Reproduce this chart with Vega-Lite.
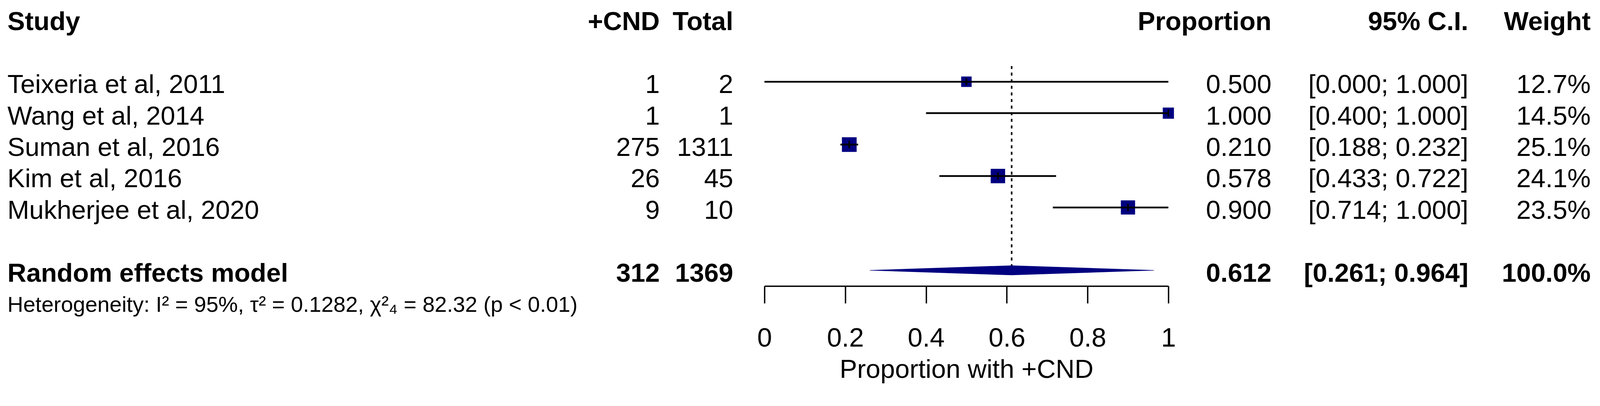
{
  "$schema": "https://vega.github.io/schema/vega-lite/v6.json",
  "padding": {"left": 19, "top": 0, "right": 23, "bottom": 0},
  "autosize": {"type": "pad"},
  "bounds": "flush",
  "spacing": 80,
  "resolve": {"scale": {"y": "independent"}},
  "config": {"font": "Liberation Sans", "view": {"stroke": null}, "text": {"color": "black"}},
  "datasets": {
    "studies": [
      {"row": 2, "study": "Teixeria et al, 2011", "events": 1, "total": 2, "proportion": 0.5, "lower": 0.0, "upper": 1.0, "ci": "[0.000; 1.000]", "weight": 0.127},
      {"row": 3, "study": "Wang et al, 2014", "events": 1, "total": 1, "proportion": 1.0, "lower": 0.4, "upper": 1.0, "ci": "[0.400; 1.000]", "weight": 0.145},
      {"row": 4, "study": "Suman et al, 2016", "events": 275, "total": 1311, "proportion": 0.21, "lower": 0.188, "upper": 0.232, "ci": "[0.188; 0.232]", "weight": 0.251},
      {"row": 5, "study": "Kim et al, 2016", "events": 26, "total": 45, "proportion": 0.578, "lower": 0.433, "upper": 0.722, "ci": "[0.433; 0.722]", "weight": 0.241},
      {"row": 6, "study": "Mukherjee et al, 2020", "events": 9, "total": 10, "proportion": 0.9, "lower": 0.714, "upper": 1.0, "ci": "[0.714; 1.000]", "weight": 0.235}
    ],
    "pooled": [
      {"row": 8, "study": "Random effects model", "events": 312, "total": 1369, "proportion": 0.612, "lower": 0.261, "upper": 0.964, "ci": "[0.261; 0.964]", "weight": 1.0, "heterogeneity": "Heterogeneity: I² = 95%, τ² = 0.1282, χ²₄ = 82.32 (p < 0.01)"}
    ],
    "header": [
      {"row": 0, "study": "Study", "events": "+CND", "total": "Total", "proportion": "Proportion", "ci": "95% C.I.", "weight": "Weight"}
    ],
    "diamond": [
      {"x": 0.261, "row": 8, "profile": 0},
      {"x": 0.612, "row": 8, "profile": 1},
      {"x": 0.964, "row": 8, "profile": 0}
    ],
    "refline": [
      {"x": 0.612, "top": 1.5, "bottom": 8}
    ]
  },
  "hconcat": [
    {
      "width": 1670, "height": 1003,
      "layer": [
        {"data": {"name": "header"}, "mark": {"type": "text", "align": "left", "baseline": "middle", "dy": 9, "fontSize": 67, "fontWeight": "bold"},
         "encoding": {"x": {"value": 0}, "y": {"field": "row", "type": "quantitative", "scale": {"domain": [-0.6, 11.869], "reverse": true}, "axis": null}, "text": {"field": "study", "type": "nominal"}}},
        {"data": {"name": "header"}, "mark": {"type": "text", "align": "right", "baseline": "middle", "dy": 9, "fontSize": 67, "fontWeight": "bold"},
         "encoding": {"x": {"value": "width"}, "y": {"field": "row", "type": "quantitative", "scale": {"domain": [-0.6, 11.869], "reverse": true}, "axis": null}, "text": {"field": "events", "type": "nominal"}}},
        {"data": {"name": "studies"}, "mark": {"type": "text", "align": "left", "baseline": "middle", "dy": 9, "fontSize": 67},
         "encoding": {"x": {"value": 0}, "y": {"field": "row", "type": "quantitative", "scale": {"domain": [-0.6, 11.869], "reverse": true}, "axis": null}, "text": {"field": "study", "type": "nominal"}}},
        {"data": {"name": "studies"}, "mark": {"type": "text", "align": "right", "baseline": "middle", "dy": 9, "fontSize": 67},
         "encoding": {"x": {"value": "width"}, "y": {"field": "row", "type": "quantitative", "scale": {"domain": [-0.6, 11.869], "reverse": true}, "axis": null}, "text": {"field": "events", "type": "nominal"}}},
        {"data": {"name": "pooled"}, "mark": {"type": "text", "align": "left", "baseline": "middle", "dy": 9, "fontSize": 67, "fontWeight": "bold"},
         "encoding": {"x": {"value": 0}, "y": {"field": "row", "type": "quantitative", "scale": {"domain": [-0.6, 11.869], "reverse": true}, "axis": null}, "text": {"field": "study", "type": "nominal"}}},
        {"data": {"name": "pooled"}, "mark": {"type": "text", "align": "right", "baseline": "middle", "dy": 9, "fontSize": 67, "fontWeight": "bold"},
         "encoding": {"x": {"value": "width"}, "y": {"field": "row", "type": "quantitative", "scale": {"domain": [-0.6, 11.869], "reverse": true}, "axis": null}, "text": {"field": "events", "type": "nominal"}}},
        {"data": {"name": "pooled"}, "mark": {"type": "text", "align": "left", "baseline": "alphabetic", "dy": 106, "fontSize": 56},
         "encoding": {"x": {"value": 0}, "y": {"field": "row", "type": "quantitative", "scale": {"domain": [-0.6, 11.869], "reverse": true}, "axis": null}, "text": {"field": "heterogeneity", "type": "nominal"}}}
      ]
    },
    {
      "width": 108, "height": 1003,
      "layer": [
        {"data": {"name": "header"}, "mark": {"type": "text", "align": "right", "baseline": "middle", "dy": 9, "fontSize": 67, "fontWeight": "bold"},
         "encoding": {"x": {"value": "width"}, "y": {"field": "row", "type": "quantitative", "scale": {"domain": [-0.6, 11.869], "reverse": true}, "axis": null}, "text": {"field": "total", "type": "nominal"}}},
        {"data": {"name": "studies"}, "mark": {"type": "text", "align": "right", "baseline": "middle", "dy": 9, "fontSize": 67},
         "encoding": {"x": {"value": "width"}, "y": {"field": "row", "type": "quantitative", "scale": {"domain": [-0.6, 11.869], "reverse": true}, "axis": null}, "text": {"field": "total", "type": "nominal"}}},
        {"data": {"name": "pooled"}, "mark": {"type": "text", "align": "right", "baseline": "middle", "dy": 9, "fontSize": 67, "fontWeight": "bold"},
         "encoding": {"x": {"value": "width"}, "y": {"field": "row", "type": "quantitative", "scale": {"domain": [-0.6, 11.869], "reverse": true}, "axis": null}, "text": {"field": "total", "type": "nominal"}}}
      ]
    },
    {
      "width": 1034, "height": 732,
      "layer": [
        {"data": {"name": "refline"}, "mark": {"type": "rule", "strokeDash": [7.7, 9.2], "strokeWidth": 4, "color": "black"},
         "encoding": {
           "x": {"field": "x", "type": "quantitative", "scale": {"domain": [0, 1], "nice": false, "zero": false},
                 "axis": {"values": [0, 0.2, 0.4, 0.6, 0.8, 1], "format": "~g", "title": "Proportion with +CND", "grid": false,
                          "domainColor": "black", "domainWidth": 3.5, "tickColor": "black", "tickWidth": 3.5, "tickSize": 44,
                          "labelFontSize": 68, "labelColor": "black", "labelPadding": 56, "labelFlush": false, "labelOverlap": false,
                          "titleFontSize": 67, "titleFontWeight": "normal", "titleColor": "black", "titleBaseline": "alphabetic", "titleY": 234}},
           "y": {"field": "top", "type": "quantitative", "scale": {"domain": [-0.6, 8.5], "reverse": true}, "axis": null},
           "y2": {"field": "bottom"}}},
        {"data": {"name": "studies"}, "mark": {"type": "point", "shape": "square", "filled": true, "color": "#000080", "opacity": 1, "strokeWidth": 0},
         "encoding": {
           "x": {"field": "proportion", "type": "quantitative"},
           "y": {"field": "row", "type": "quantitative", "scale": {"domain": [-0.6, 8.5], "reverse": true}, "axis": null},
           "size": {"field": "weight", "type": "quantitative", "scale": {"type": "linear", "domain": [0, 1], "range": [0, 5650]}, "legend": null}}},
        {"data": {"name": "studies"}, "mark": {"type": "rule", "strokeWidth": 4.5, "color": "black"},
         "encoding": {
           "x": {"field": "lower", "type": "quantitative"},
           "x2": {"field": "upper"},
           "y": {"field": "row", "type": "quantitative", "scale": {"domain": [-0.6, 8.5], "reverse": true}, "axis": null}}},
        {"data": {"name": "studies"}, "mark": {"type": "tick", "orient": "vertical", "size": 19, "thickness": 4, "color": "black", "opacity": 1},
         "encoding": {
           "x": {"field": "proportion", "type": "quantitative"},
           "y": {"field": "row", "type": "quantitative", "scale": {"domain": [-0.6, 8.5], "reverse": true}, "axis": null}}},
        {"data": {"name": "diamond"}, "mark": {"type": "trail", "color": "#000080", "opacity": 1},
         "encoding": {
           "x": {"field": "x", "type": "quantitative"},
           "y": {"field": "row", "type": "quantitative", "scale": {"domain": [-0.6, 8.5], "reverse": true}, "axis": null},
           "size": {"field": "profile", "type": "quantitative", "scale": {"type": "linear", "domain": [0, 1], "range": [0, 25]}, "legend": null}}}
      ],
      "resolve": {"scale": {"size": "independent"}}
    },
    {
      "width": 184, "height": 1003,
      "layer": [
        {"data": {"name": "header"}, "mark": {"type": "text", "align": "right", "baseline": "middle", "dy": 9, "fontSize": 67, "fontWeight": "bold"},
         "encoding": {"x": {"value": "width"}, "y": {"field": "row", "type": "quantitative", "scale": {"domain": [-0.6, 11.869], "reverse": true}, "axis": null}, "text": {"field": "proportion", "type": "nominal"}}},
        {"data": {"name": "studies"}, "mark": {"type": "text", "align": "right", "baseline": "middle", "dy": 9, "fontSize": 67},
         "encoding": {"x": {"value": "width"}, "y": {"field": "row", "type": "quantitative", "scale": {"domain": [-0.6, 11.869], "reverse": true}, "axis": null}, "text": {"field": "proportion", "type": "quantitative", "format": ".3f"}}},
        {"data": {"name": "pooled"}, "mark": {"type": "text", "align": "right", "baseline": "middle", "dy": 9, "fontSize": 67, "fontWeight": "bold"},
         "encoding": {"x": {"value": "width"}, "y": {"field": "row", "type": "quantitative", "scale": {"domain": [-0.6, 11.869], "reverse": true}, "axis": null}, "text": {"field": "proportion", "type": "quantitative", "format": ".3f"}}}
      ]
    },
    {
      "width": 424, "height": 1003,
      "layer": [
        {"data": {"name": "header"}, "mark": {"type": "text", "align": "right", "baseline": "middle", "dy": 9, "fontSize": 67, "fontWeight": "bold"},
         "encoding": {"x": {"value": "width"}, "y": {"field": "row", "type": "quantitative", "scale": {"domain": [-0.6, 11.869], "reverse": true}, "axis": null}, "text": {"field": "ci", "type": "nominal"}}},
        {"data": {"name": "studies"}, "mark": {"type": "text", "align": "right", "baseline": "middle", "dy": 9, "fontSize": 67},
         "encoding": {"x": {"value": "width"}, "y": {"field": "row", "type": "quantitative", "scale": {"domain": [-0.6, 11.869], "reverse": true}, "axis": null}, "text": {"field": "ci", "type": "nominal"}}},
        {"data": {"name": "pooled"}, "mark": {"type": "text", "align": "right", "baseline": "middle", "dy": 9, "fontSize": 67, "fontWeight": "bold"},
         "encoding": {"x": {"value": "width"}, "y": {"field": "row", "type": "quantitative", "scale": {"domain": [-0.6, 11.869], "reverse": true}, "axis": null}, "text": {"field": "ci", "type": "nominal"}}}
      ]
    },
    {
      "width": 233, "height": 1003,
      "layer": [
        {"data": {"name": "header"}, "mark": {"type": "text", "align": "right", "baseline": "middle", "dy": 9, "fontSize": 67, "fontWeight": "bold"},
         "encoding": {"x": {"value": "width"}, "y": {"field": "row", "type": "quantitative", "scale": {"domain": [-0.6, 11.869], "reverse": true}, "axis": null}, "text": {"field": "weight", "type": "nominal"}}},
        {"data": {"name": "studies"}, "mark": {"type": "text", "align": "right", "baseline": "middle", "dy": 9, "fontSize": 67},
         "encoding": {"x": {"value": "width"}, "y": {"field": "row", "type": "quantitative", "scale": {"domain": [-0.6, 11.869], "reverse": true}, "axis": null}, "text": {"field": "weight", "type": "quantitative", "format": ".1%"}}},
        {"data": {"name": "pooled"}, "mark": {"type": "text", "align": "right", "baseline": "middle", "dy": 9, "fontSize": 67, "fontWeight": "bold"},
         "encoding": {"x": {"value": "width"}, "y": {"field": "row", "type": "quantitative", "scale": {"domain": [-0.6, 11.869], "reverse": true}, "axis": null}, "text": {"field": "weight", "type": "quantitative", "format": ".1%"}}}
      ]
    }
  ]
}
